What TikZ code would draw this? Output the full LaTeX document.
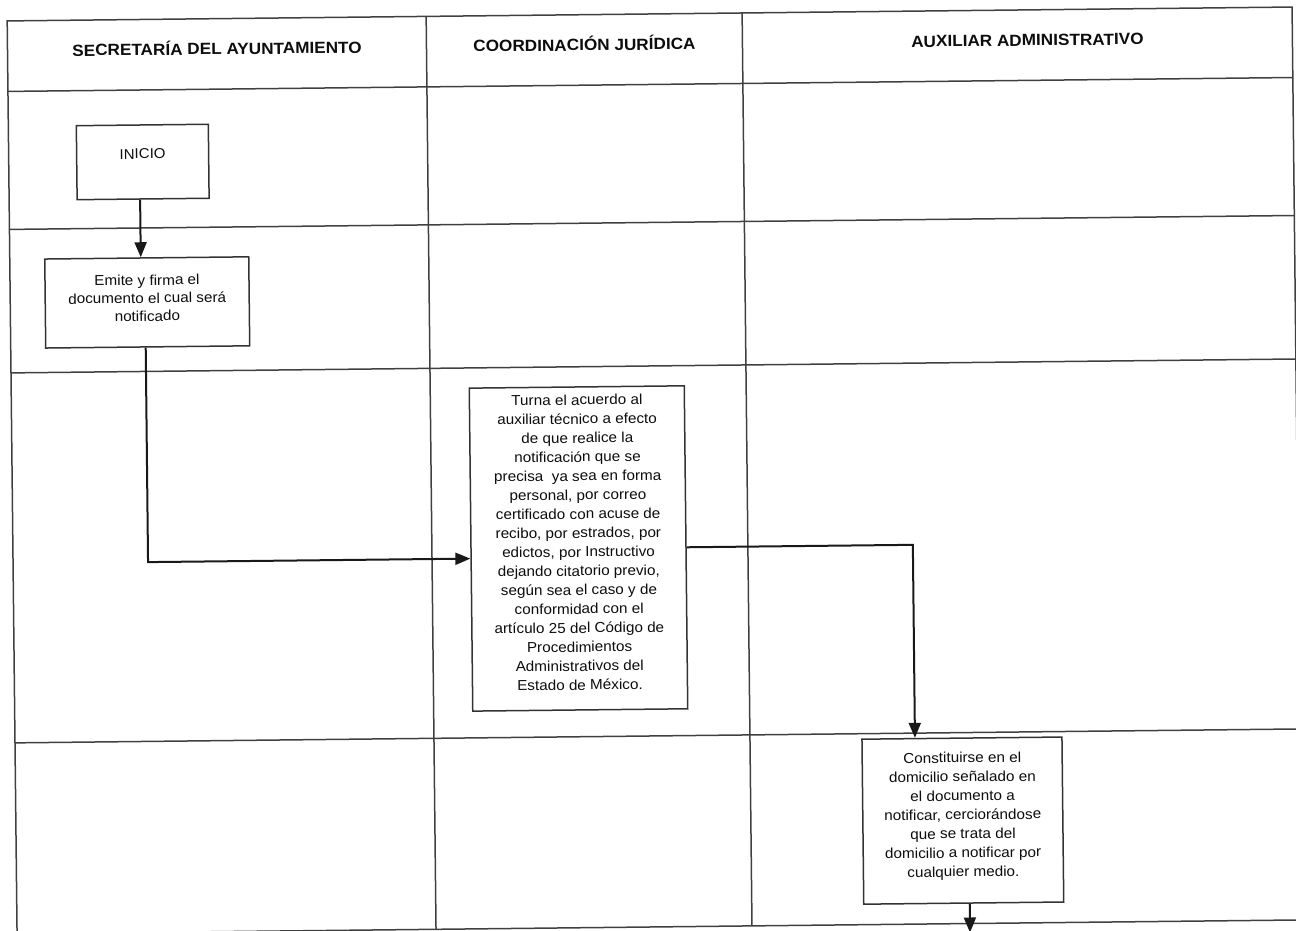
\documentclass[tikz,border=0pt]{standalone}
\usepackage{fontspec}
\setmainfont{Liberation Sans}[FakeStretch=1.06]
\usetikzlibrary{arrows.meta}
\begin{document}
\begin{tikzpicture}[x=1pt,y=-1pt,
  grid/.style={draw=black!75, line width=1.5pt},
  box/.style={draw=black!80, line width=1.5pt, fill=white, inner sep=0pt, transform shape},
  txt/.style={align=center, text=black!95, inner sep=0pt, transform shape},
  hdr/.style={text=black!95, font=\bfseries\fontsize{16.2}{19}\selectfont, inner sep=0pt, anchor=base, transform shape},
  conn/.style={draw=black!90, line width=2pt, -{Triangle[length=15pt,width=12pt]}},
]
\useasboundingbox (0,0) rectangle (1296,930);
\clip (0,0) rectangle (1296,930);
\begin{scope}[rotate around={0.62:(648,465)}]
  % swimlane table
  \draw[grid] (12,14) rectangle (1297,927);
  \foreach \y in {84.5,222.5,366,736} \draw[grid] (12,\y) -- (1297,\y);
  \foreach \x in {431,747} \draw[grid] (\x,14) -- (\x,927);

  % lane headers
  \node[hdr] (h1) at (221.5,50) {SECRETARÍA DEL AYUNTAMIENTO};
  \node[hdr] (h2) at (589,50) {COORDINACIÓN JURÍDICA};
  \node[hdr] (h3) at (1032,50) {AUXILIAR ADMINISTRATIVO};

  % process boxes
  \node[box, minimum width=132pt, minimum height=74pt] (inicio) at (146,156.5) {};
  \node[txt, font=\fontsize{14.2}{18}\selectfont] (tinicio) at (146,148.5) {INICIO};

  \node[box, minimum width=204pt, minimum height=89pt] (emite) at (149,297) {};
  \node[txt, font=\fontsize{14.4}{18}\selectfont] (temite) at (149,292.6)
    {Emite y firma el\\documento el cual será\\notificado};

  \node[box, minimum width=215pt, minimum height=323pt] (turna) at (577.6,547.7) {};
  \node[txt, font=\fontsize{14.4}{19}\selectfont] (tturna) at (577.6,541.6)
    {Turna el acuerdo al\\auxiliar técnico a efecto\\de que realice la\\notificación que se\\precisa \ ya sea en forma\\personal, por correo\\certificado con acuse de\\recibo, por estrados, por\\edictos, por Instructivo\\dejando citatorio previo,\\según sea el caso y de\\conformidad con el\\artículo 25 del Código de\\Procedimientos\\Administrativos del\\Estado de México.};

  \node[box, minimum width=200pt, minimum height=165pt] (const) at (959,824) {};
  \node[txt, font=\fontsize{14.4}{19}\selectfont] (tconst) at (959,819.4)
    {Constituirse en el\\domicilio señalado en\\el documento a\\notificar, cerciorándose\\que se trata del\\domicilio a notificar por\\cualquier medio.};

  % connectors
  \coordinate (tail) at (965,936);
  \draw[conn] ([xshift=-3pt]inicio.south) -- ([xshift=-3pt]inicio.south |- emite.north);
  \draw[conn] ([xshift=-2pt]emite.south) |- ([yshift=-9pt]turna.west);
  \draw[conn] (turna.east) -| ([xshift=-47pt]const.north);
  \draw[conn] (const.south -| tail) -- (tail);
\end{scope}
\end{tikzpicture}
\end{document}
